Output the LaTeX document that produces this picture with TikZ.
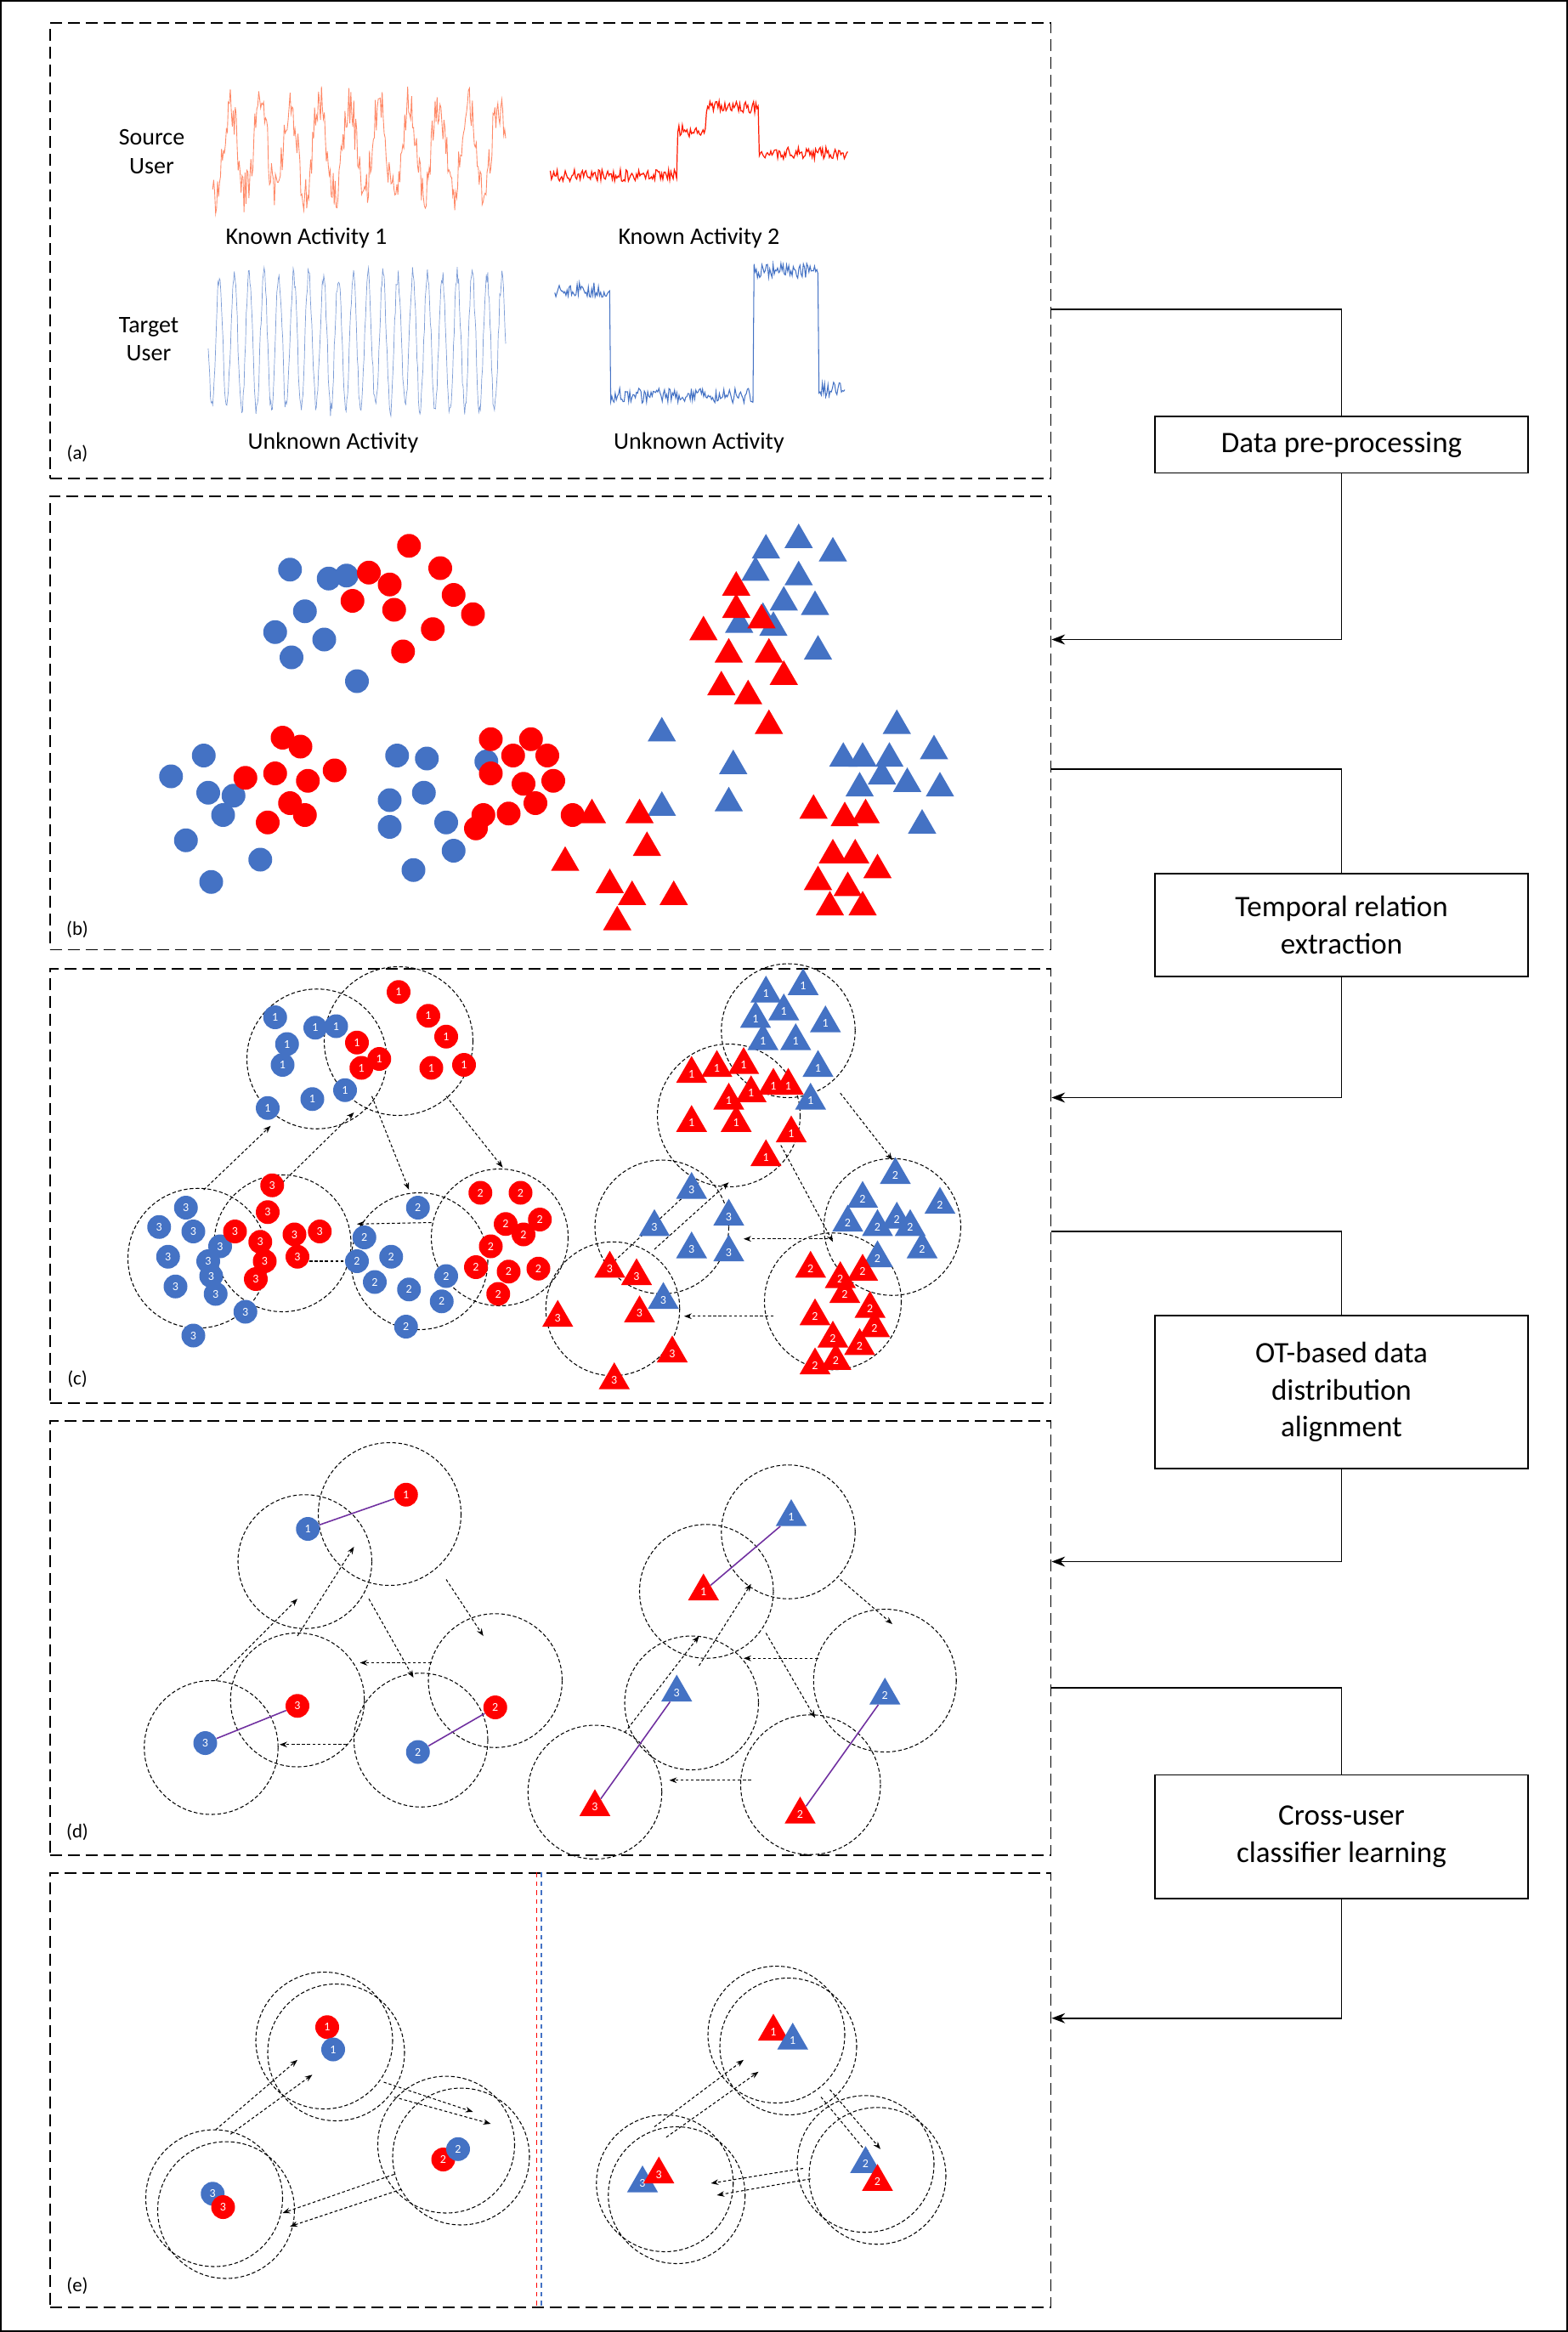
\documentclass[tikz,border=0pt]{standalone}
\usepackage{fontspec}
\setmainfont{Carlito}
\usetikzlibrary{shapes.geometric,arrows.meta}
\definecolor{myblue}{HTML}{4472C4}
\definecolor{myred}{HTML}{FF0000}
\definecolor{mypurple}{HTML}{7030A0}
\tikzset{
 panel/.style={draw=black,line width=1.1pt,dash pattern=on 8pt off 4pt},
 stagebox/.style={draw,line width=0.8pt,fill=white,minimum width=251pt,align=center,font=\fontsize{20}{25}\selectfont},
 link/.style={line width=0.9pt},
 bc/.style={circle,fill=myblue,inner sep=0,minimum size=16pt,text=white,font=\fontsize{8}{8}\selectfont},
 rc/.style={circle,fill=myred,inner sep=0,minimum size=16pt,text=white,font=\fontsize{8}{8}\selectfont},
 bt/.style={regular polygon,regular polygon sides=3,fill=myblue,inner sep=0,minimum size=24pt,text=white,font=\fontsize{8}{8}\selectfont},
 rt/.style={regular polygon,regular polygon sides=3,fill=myred,inner sep=0,minimum size=24pt,text=white,font=\fontsize{8}{8}\selectfont},
 ring/.style={draw=black,line width=0.6pt,dash pattern=on 2.5pt off 1.5pt},
 flow/.style={line width=0.6pt,dash pattern=on 2pt off 1.5pt,-{Stealth[length=5pt]}},
 match/.style={mypurple,line width=0.9pt},
 lab/.style={font=\fontsize{16}{19}\selectfont,align=center},
}
\begin{document}
\begin{tikzpicture}[x=1pt,y=-1pt]
\useasboundingbox (0,0) rectangle (1054,1568);
\draw[line width=1pt] (0.5,0.5) rectangle (1053.5,1567.5);
% panels
\node[panel,minimum width=673pt,minimum height=306pt,inner sep=0,anchor=north west] (pa) at (33,15) {};
\node[panel,minimum width=673pt,minimum height=305pt,inner sep=0,anchor=north west] (pb) at (33,333) {};
\node[panel,minimum width=673pt,minimum height=292pt,inner sep=0,anchor=north west] (pc) at (33,651) {};
\node[panel,minimum width=673pt,minimum height=292pt,inner sep=0,anchor=north west] (pd) at (33,955) {};
\node[panel,minimum width=673pt,minimum height=292pt,inner sep=0,anchor=north west] (pe) at (33,1259) {};
% stage boxes
\node[stagebox,minimum height=38pt] (s1) at (902,299) {Data pre-processing};
\node[stagebox,minimum height=69pt] (s2) at (902,622) {Temporal relation\\extraction};
\node[stagebox,minimum height=103pt] (s3) at (902,936) {OT-based data\\distribution\\alignment};
\node[stagebox,minimum height=83pt] (s4) at (902,1235) {Cross-user\\classifier learning};
% connectors
\draw[link] (pa.east |- 0,208) -| (s1.north);
\draw[link,-{Stealth[length=9pt]}] (s1.south) |- (pb.east |- 0,430);
\draw[link] (pb.east |- 0,517) -| (s2.north);
\draw[link,-{Stealth[length=9pt]}] (s2.south) |- (pc.east |- 0,738);
\draw[link] (pc.east |- 0,828) -| (s3.north);
\draw[link,-{Stealth[length=9pt]}] (s3.south) |- (pd.east |- 0,1050);
\draw[link] (pd.east |- 0,1135) -| (s4.north);
\draw[link,-{Stealth[length=9pt]}] (s4.south) |- (pe.east |- 0,1357);
% panel labels
\node[lab,font=\fontsize{13}{15}\selectfont] at (52,305) {(a)};
\node[lab,font=\fontsize{13}{15}\selectfont] at (52,625) {(b)};
\node[lab,font=\fontsize{13}{15}\selectfont] at (52,927) {(c)};
\node[lab,font=\fontsize{13}{15}\selectfont] at (52,1232) {(d)};
\node[lab,font=\fontsize{13}{15}\selectfont] at (52,1537) {(e)};
% (a)
\node[lab] at (102,102) {Source\\User};
\node[lab] at (100,228) {Target\\User};
\node[lab] at (206,160) {Known Activity 1};
\node[lab] at (470,160) {Known Activity 2};
\node[lab] at (224,298) {Unknown Activity};
\node[lab] at (470,298) {Unknown Activity};
\pgfmathsetseed{7}
\draw[myred!55!orange!60!white,line width=0.5pt] plot[domain=143:340,samples=300] (\x,{100+30*sin(18*\x)+14*rand});
\draw[myred!80!orange,line width=0.7pt] plot[domain=370:570,samples=260] (\x,{((\x<455)?118:((\x<475)?88:((\x<510)?72:103)))+4*rand});
\draw[myblue!70,line width=0.4pt] plot[domain=140:340,samples=400] (\x,{230+45*sin(36*\x)+6*rand});
\draw[myblue,line width=0.6pt] plot[domain=373:568,samples=260] (\x,{((\x<410)?195:((\x<507)?266:((\x<550)?182:262)))+5*rand});
% (b)
\foreach \p in {(195,383),(221,389),(233,387),(205,411),(185,425),(218,430),(196,442),(240,458),(115,522),(137,508),(140,533),(157,535),(150,548),(125,565),(175,578),(142,593),(267,508),(287,510),(285,533),(262,538),(300,553),(262,556),(305,572),(278,585),(327,512)}
  \fill[myblue] \p circle (8);
\foreach \p in {(275,367),(296,382),(248,385),(265,410),(305,400),(318,413),(237,404),(271,438),(291,423),(262,393),(190,496),(202,502),(165,523),(185,520),(207,525),(225,518),(180,553),(205,548),(195,540),(330,497),(357,497),(345,508),(368,508),(330,520),(352,527),(372,525),(360,540),(342,547),(325,548),(320,557),(385,548)}
  \fill[myred] \p circle (8);
\foreach \p in {(537,363),(515,370),(560,372),(508,385),(537,388),(527,405),(513,416),(548,408),(497,420),(520,422),(550,438),(603,488),(567,510),(580,510),(598,510),(593,522),(628,505),(610,527),(632,530),(578,530),(493,515),(445,493),(445,543),(490,540),(620,555)}
  \node[bt,minimum size=22pt] at \p {};
\foreach \p in {(495,395),(495,410),(512,417),(473,425),(490,440),(517,440),(527,455),(485,462),(503,468),(517,488),(547,545),(568,550),(582,548),(560,575),(575,575),(590,585),(550,593),(570,597),(580,610),(558,610),(380,580),(398,548),(430,548),(435,570),(410,595),(425,603),(415,620),(453,603)}
  \node[rt,minimum size=22pt] at \p {};
% (c) left
\foreach \c/\r in {(213,712)/47,(268,700)/50,(133,846)/47,(190,836)/46,(282,848)/46,(336,832)/46}
  \draw[ring] \c circle (\r);
\draw[flow] (137,800) -- (182,757);
\draw[flow] (190,795) -- (238,748);
\draw[flow] (250,737) -- (275,800);
\draw[flow] (300,737) -- (338,785);
\draw[flow] (290,822) -- (240,823);
\draw[flow] (238,848) -- (200,848);
\foreach \p in {(185,684),(212,691),(226,690),(193,702),(190,716),(210,739),(180,745),(232,733)} \node[bc] at \p {1};
\foreach \p in {(268,667),(288,683),(240,701),(255,712),(243,718),(300,697),(290,718),(312,716)} \node[rc] at \p {1};
\foreach \p in {(125,812),(107,825),(130,828),(148,838),(113,845),(140,848),(142,858),(118,865),(145,870),(165,882),(130,898)} \node[bc] at \p {3};
\foreach \p in {(183,797),(180,815),(158,828),(175,835),(198,830),(215,828),(178,848),(200,845),(172,860)} \node[rc] at \p {3};
\foreach \p in {(281,812),(245,832),(263,845),(240,848),(252,862),(275,867),(300,858),(297,875),(273,892)} \node[bc] at \p {2};
\foreach \p in {(323,802),(350,802),(340,823),(352,830),(330,838),(320,852),(342,855),(362,853),(335,870),(363,820)} \node[rc] at \p {2};
% (c) right
\foreach \c/\r in {(530,693)/45,(490,750)/48,(445,825)/45,(600,825)/46,(412,880)/45,(560,875)/46}
  \draw[ring] \c circle (\r);
\draw[flow] (413,848) -- (470,795);
\draw[flow] (440,840) -- (490,795);
\draw[flow] (525,770) -- (560,835);
\draw[flow] (565,735) -- (600,780);
\draw[flow] (560,833) -- (500,833);
\draw[flow] (520,885) -- (460,885);
\foreach \p in {(515,668),(540,663),(508,685),(527,680),(555,688),(513,700),(535,700),(550,718),(545,740)} \node[bt] at \p {1};
\foreach \p in {(465,722),(482,718),(500,716),(520,730),(490,740),(505,735),(530,730),(465,755),(495,755),(532,762),(515,778)} \node[rt] at \p {1};
\foreach \p in {(465,800),(440,825),(490,818),(465,840),(490,842),(446,874)} \node[bt] at \p {3};
\foreach \p in {(602,790),(580,806),(603,820),(590,825),(612,825),(570,822),(632,810),(590,846),(620,840)} \node[bt] at \p {2};
\foreach \p in {(410,853),(428,858),(430,883),(375,886),(452,910),(413,928)} \node[rt] at \p {3};
\foreach \p in {(545,853),(565,860),(580,855),(568,870),(585,880),(548,885),(588,893),(560,900),(578,905),(562,915),(548,918)} \node[rt] at \p {2};
% (d) left
\foreach \c/\r in {(205,1050)/45,(262,1018)/48,(142,1175)/45,(200,1143)/45,(283,1170)/45,(333,1130)/45}
  \draw[ring] \c circle (\r);
\draw[flow] (145,1130) -- (200,1075);
\draw[flow] (200,1100) -- (238,1040);
\draw[flow] (248,1075) -- (278,1128);
\draw[flow] (300,1062) -- (325,1100);
\draw[flow] (290,1118) -- (242,1118);
\draw[flow] (233,1173) -- (188,1173);
\node[bc] (d1b) at (207,1028) {1}; \node[rc] (d1r) at (273,1005) {1};
\node[bc] (d3b) at (138,1172) {3}; \node[rc] (d3r) at (200,1147) {3};
\node[bc] (d2b) at (281,1178) {2}; \node[rc] (d2r) at (333,1148) {2};
\draw[match] (d1b) -- (d1r); \draw[match] (d3b) -- (d3r); \draw[match] (d2b) -- (d2r);
% (d) right
\foreach \c/\r in {(530,1030)/45,(475,1070)/45,(465,1145)/45,(400,1205)/45,(595,1130)/48,(545,1200)/47}
  \draw[ring] \c circle (\r);
\draw[flow] (420,1165) -- (470,1100);
\draw[flow] (470,1120) -- (505,1065);
\draw[flow] (515,1098) -- (548,1155);
\draw[flow] (565,1062) -- (600,1092);
\draw[flow] (550,1115) -- (500,1115);
\draw[flow] (505,1197) -- (450,1197);
\node[bt] (e1b) at (532,1020) {1}; \node[rt] (e1r) at (473,1070) {1};
\node[bt] (e3b) at (455,1138) {3}; \node[rt] (e3r) at (400,1215) {3};
\node[bt] (e2b) at (595,1140) {2}; \node[rt] (e2r) at (538,1220) {2};
\draw[match] (e1b) -- (e1r); \draw[match] (e3b) -- (e3r); \draw[match] (e2b) -- (e2r);
% (e)
\draw[myred,dashed,line width=0.8pt] (361,1259) -- (361,1551);
\draw[myblue,dashed,line width=0.8pt] (364,1259) -- (364,1551);
\foreach \c in {(218,1372),(226,1380),(144,1478),(152,1486),(300,1442),(310,1450)} \draw[ring] \c circle (46);
\draw[flow] (145,1432) -- (200,1385);
\draw[flow] (155,1435) -- (210,1395);
\draw[flow] (258,1400) -- (318,1420);
\draw[flow] (265,1410) -- (330,1428);
\draw[flow] (265,1462) -- (190,1488);
\draw[flow] (270,1472) -- (195,1497);
\node[rc] at (220,1363) {1}; \node[bc] at (224,1378) {1};
\node[bc] at (143,1475) {3}; \node[rc] at (150,1484) {3};
\node[rc] at (298,1452) {2}; \node[bc] at (308,1445) {2};
\foreach \c in {(522,1368),(530,1376),(447,1468),(455,1476),(582,1455),(590,1463)} \draw[ring] \c circle (46);
\draw[flow] (440,1430) -- (500,1385);
\draw[flow] (448,1437) -- (510,1393);
\draw[flow] (552,1410) -- (585,1450);
\draw[flow] (558,1405) -- (592,1445);
\draw[flow] (540,1458) -- (478,1468);
\draw[flow] (545,1465) -- (482,1476);
\node[rt] at (520,1366) {1}; \node[bt] at (533,1372) {1};
\node[bt] at (432,1468) {3}; \node[rt] at (443,1462) {3};
\node[bt] at (582,1455) {2}; \node[rt] at (590,1467) {2};
\end{tikzpicture}
\end{document}
